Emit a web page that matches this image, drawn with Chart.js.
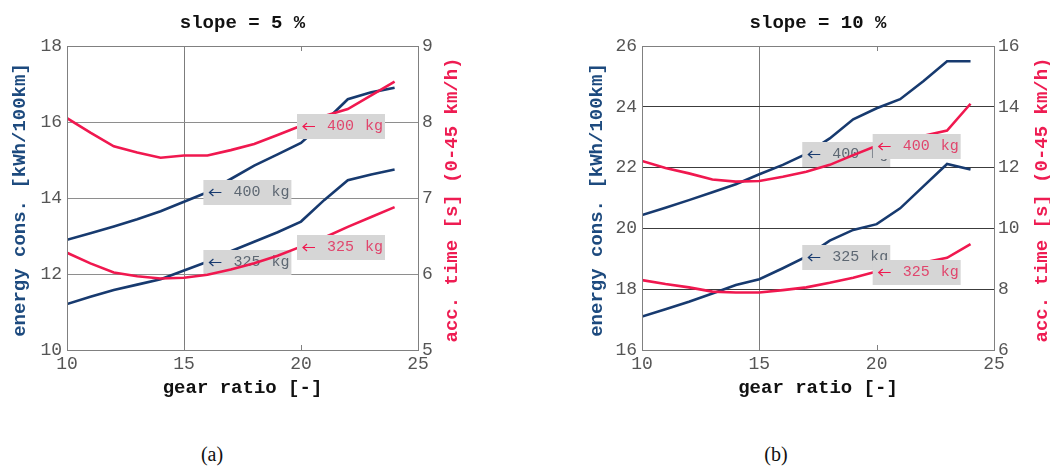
<!DOCTYPE html>
<html>
<head>
<meta charset="utf-8">
<script src="https://cdn.jsdelivr.net/npm/chart.js@4.4.1/dist/chart.umd.min.js"></script>
<style>
  html, body { margin: 0; padding: 0; background: #fff; }
  #wrap { position: relative; width: 1050px; height: 469px; overflow: hidden; background: #fff; }
  .panel { position: absolute; top: 0; }
  .cap { position: absolute; top: 443px; font: 20px "Liberation Serif", serif; color: #111; transform: translateX(-50%); }
</style>
</head>
<body>
<div id="wrap">
  <div class="panel" style="left:0;width:470px;height:400px"><canvas id="c5" width="470" height="400"></canvas></div>
  <div class="panel" style="left:575px;width:475px;height:400px"><canvas id="c10" width="475" height="400"></canvas></div>
  <div class="cap" style="left:212px">(a)</div>
  <div class="cap" style="left:776px">(b)</div>
</div>
<script>
// gear ratios evaluated
const gearRatio = [10, 11, 12, 13, 14, 15, 16, 17, 18, 19, 20, 21, 22, 23, 24];

// slope = 5 %
const energy400_s5  = [12.90, 13.07, 13.25, 13.44, 13.65, 13.90, 14.15, 14.50, 14.85, 15.15, 15.45, 16.00, 16.60, 16.78, 16.90];
const energy325_s5  = [11.21, 11.40, 11.58, 11.72, 11.86, 12.09, 12.32, 12.60, 12.85, 13.10, 13.38, 13.95, 14.47, 14.62, 14.75];
const accTime400_s5 = [8.05, 7.86, 7.68, 7.60, 7.53, 7.56, 7.56, 7.63, 7.71, 7.83, 7.95, 8.08, 8.17, 8.35, 8.53];
const accTime325_s5 = [6.28, 6.14, 6.02, 5.97, 5.94, 5.95, 5.99, 6.06, 6.14, 6.24, 6.36, 6.48, 6.62, 6.75, 6.88];

// slope = 10 %
const energy400_s10  = [20.44, 20.68, 20.93, 21.19, 21.45, 21.78, 22.09, 22.45, 22.96, 23.59, 23.95, 24.25, 24.85, 25.50, 25.50];
const energy325_s10  = [17.10, 17.34, 17.59, 17.86, 18.14, 18.33, 18.69, 19.07, 19.60, 19.95, 20.14, 20.66, 21.39, 22.12, 21.94];
const accTime400_s10 = [12.22, 11.99, 11.81, 11.61, 11.54, 11.56, 11.70, 11.86, 12.09, 12.41, 12.72, 12.88, 13.05, 13.22, 14.10];
const accTime325_s10 = [8.30, 8.17, 8.06, 7.92, 7.89, 7.89, 7.97, 8.06, 8.21, 8.38, 8.58, 8.73, 8.88, 9.03, 9.48];

// axis ranges / ticks
const xRange = [10, 25], xStep = 5;
const energyRange_s5 = [10, 18], energyStep_s5 = 2;
const timeRange_s5 = [5, 9], timeStep_s5 = 1;
const energyRange_s10 = [16, 26], energyStep_s10 = 2;
const timeRange_s10 = [6, 16], timeStep_s10 = 2;

const BLUE = '#173a6f';
const RED = '#f0184f';
const MONO = '"Liberation Mono", "DejaVu Sans Mono", monospace';

const toPoints = arr => gearRatio.map((g, i) => ({ x: g, y: arr[i] }));

// grey tag box with a left-pointing arrow at the curve point
function drawTags(chart, tags) {
  const ctx = chart.ctx;
  const xs = chart.scales.x;
  tags.forEach(t => {
    const ys = chart.scales[t.axis];
    const v = t.values[gearRatio.indexOf(t.gear)];
    const px = xs.getPixelForValue(t.gear);
    const py = Math.round(ys.getPixelForValue(v)) + 0.5;
    ctx.save();
    ctx.fillStyle = '#d6d6d6';
    ctx.fillRect(px - 4, py - 12.5, 88, 25);
    ctx.strokeStyle = t.arrowColor;
    ctx.lineWidth = 1.2;
    ctx.beginPath();
    ctx.moveTo(px + 14, py); ctx.lineTo(px + 2, py);
    ctx.moveTo(px + 6, py - 3.5); ctx.lineTo(px + 2, py); ctx.lineTo(px + 6, py + 3.5);
    ctx.stroke();
    ctx.font = '15px ' + MONO;
    ctx.textBaseline = 'middle';
    ctx.textAlign = 'left';
    ctx.fillStyle = t.textColor;
    ctx.fillText(t.mass, px + 26, py);
    ctx.fillText('kg', px + 64, py);
    ctx.restore();
  });
}

const decor = {
  id: 'decor',
  afterDatasetDraw(chart, args, opts) {
    // energy tags sit above the energy curves but below the time curves
    if (args.index === 0) drawTags(chart, opts.tags.filter(t => t.axis === 'y'));
  },
  afterDatasetsDraw(chart, args, opts) {
    drawTags(chart, opts.tags.filter(t => t.axis === 'y1'));
  },
  afterDraw(chart, args, opts) {
    const ctx = chart.ctx;
    const a = chart.chartArea;
    const cx = (a.left + a.right) / 2;
    const cy = (a.top + a.bottom) / 2;
    ctx.save();
    // plot frame
    ctx.strokeStyle = '#808080';
    ctx.lineWidth = 1;
    ctx.strokeRect(Math.round(a.left) + 0.5, Math.round(a.top) + 0.5, Math.round(a.right - a.left), Math.round(a.bottom - a.top));
    // inward x ticks
    chart.scales.x.ticks.forEach(tk => {
      const x = Math.round(chart.scales.x.getPixelForValue(tk.value)) + 0.5;
      ctx.beginPath();
      ctx.moveTo(x, a.top); ctx.lineTo(x, a.top + 5);
      ctx.moveTo(x, a.bottom); ctx.lineTo(x, a.bottom - 5);
      ctx.stroke();
    });
    // titles
    ctx.font = 'bold 19px ' + MONO;
    ctx.textAlign = 'center';
    ctx.textBaseline = 'middle';
    ctx.fillStyle = '#111';
    ctx.fillText(opts.title, cx, 23);
    ctx.fillText('gear ratio [-]', cx, 388);
    ctx.save();
    ctx.translate(opts.leftTitleX, cy + 2);
    ctx.rotate(-Math.PI / 2);
    ctx.fillStyle = '#1d4a7e';
    ctx.fillText('energy cons. [kWh/100km]', 0, 0);
    ctx.restore();
    ctx.save();
    ctx.translate(a.right + opts.rightTitleOffset, cy + 2);
    ctx.rotate(-Math.PI / 2);
    ctx.fillStyle = '#ee1c52';
    ctx.fillText('acc. time [s] (0-45 km/h)', 0, 0);
    ctx.restore();
    ctx.restore();
  }
};

function makeChart(id, cfg) {
  const tickFont = { family: MONO, size: 18 };
  return new Chart(document.getElementById(id), {
    type: 'line',
    data: {
      datasets: [
        { data: toPoints(cfg.e400), yAxisID: 'y', borderColor: BLUE, borderWidth: 2.6, pointRadius: 0, order: 2 },
        { data: toPoints(cfg.e325), yAxisID: 'y', borderColor: BLUE, borderWidth: 2.6, pointRadius: 0, order: 2 },
        { data: toPoints(cfg.t400), yAxisID: 'y1', borderColor: RED, borderWidth: 2.6, pointRadius: 0, order: 1 },
        { data: toPoints(cfg.t325), yAxisID: 'y1', borderColor: RED, borderWidth: 2.6, pointRadius: 0, order: 1 }
      ]
    },
    options: {
      responsive: false,
      animation: false,
      events: [],
      layout: { padding: { top: 46, left: 0, right: 0, bottom: 0 } },
      plugins: {
        legend: { display: false },
        tooltip: { enabled: false },
        decor: { title: cfg.title, leftTitleX: cfg.leftTitleX, rightTitleOffset: cfg.rightTitleOffset, tags: cfg.tags }
      },
      scales: {
        x: {
          type: 'linear', min: xRange[0], max: xRange[1],
          ticks: { stepSize: xStep, font: tickFont, color: '#555', padding: 3, maxRotation: 0 },
          grid: { color: c => c.tick && c.tick.value === 15 ? '#7c7c7c' : 'rgba(0,0,0,0)', drawTicks: false },
          border: { display: false },
          afterFit: s => { s.height = 50; }
        },
        y: {
          position: 'left', min: cfg.eRange[0], max: cfg.eRange[1],
          ticks: { stepSize: cfg.eStep, font: tickFont, color: '#555', padding: 5 },
          grid: { color: c => (c.tick && (c.tick.value === cfg.eRange[0] || c.tick.value === cfg.eRange[1])) ? 'rgba(0,0,0,0)' : cfg.gridColor, drawTicks: false },
          border: { display: false },
          afterFit: s => { s.width = 67; }
        },
        y1: {
          position: 'right', min: cfg.tRange[0], max: cfg.tRange[1],
          ticks: { stepSize: cfg.tStep, font: tickFont, color: '#555', padding: 4 },
          grid: { display: false, drawTicks: false },
          border: { display: false },
          afterFit: s => { s.width = cfg.rightWidth; }
        }
      }
    },
    plugins: [decor]
  });
}

makeChart('c5', {
  title: 'slope = 5 %',
  e400: energy400_s5, e325: energy325_s5, t400: accTime400_s5, t325: accTime325_s5,
  eRange: energyRange_s5, eStep: energyStep_s5, tRange: timeRange_s5, tStep: timeStep_s5,
  gridColor: '#8e8e8e', rightWidth: 52, leftTitleX: 20, rightTitleOffset: 34,
  tags: [
    { axis: 'y', gear: 16, values: energy400_s5, mass: '400', arrowColor: BLUE, textColor: '#5d6772' },
    { axis: 'y', gear: 16, values: energy325_s5, mass: '325', arrowColor: BLUE, textColor: '#5d6772' },
    { axis: 'y1', gear: 20, values: accTime400_s5, mass: '400', arrowColor: RED, textColor: '#e0456c' },
    { axis: 'y1', gear: 20, values: accTime325_s5, mass: '325', arrowColor: RED, textColor: '#e0456c' }
  ]
});

makeChart('c10', {
  title: 'slope = 10 %',
  e400: energy400_s10, e325: energy325_s10, t400: accTime400_s10, t325: accTime325_s10,
  eRange: energyRange_s10, eStep: energyStep_s10, tRange: timeRange_s10, tStep: timeStep_s10,
  gridColor: '#3c3c3c', rightWidth: 56, leftTitleX: 22, rightTitleOffset: 48,
  tags: [
    { axis: 'y', gear: 17, values: energy400_s10, mass: '400', arrowColor: BLUE, textColor: '#5d6772' },
    { axis: 'y', gear: 17, values: energy325_s10, mass: '325', arrowColor: BLUE, textColor: '#5d6772' },
    { axis: 'y1', gear: 20, values: accTime400_s10, mass: '400', arrowColor: RED, textColor: '#e0456c' },
    { axis: 'y1', gear: 20, values: accTime325_s10, mass: '325', arrowColor: RED, textColor: '#e0456c' }
  ]
});
</script>
</body>
</html>
